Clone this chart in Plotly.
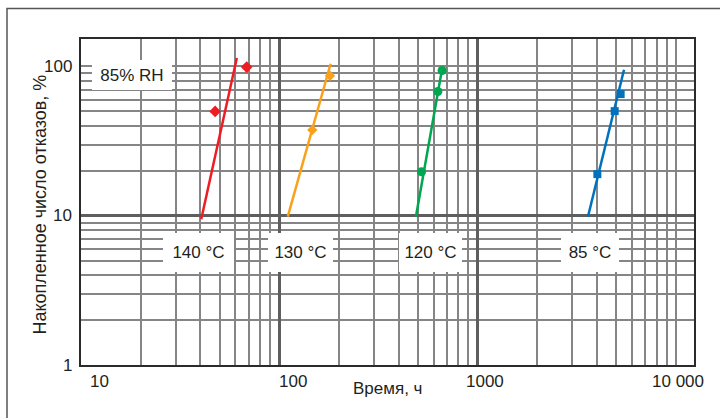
import numpy as np
import plotly.graph_objects as go

# ---------------- data ----------------
series_names = ["140 °C", "130 °C", "120 °C", "85 °C"]
series_colors = ["#ee1d23", "#f9a11b", "#00a650", "#0071bc"]
series_symbols = ["diamond", "diamond", "circle", "square"]
series_sizes = [9, 8, 9, 8]

# measured points (time, h ; cumulative failures, %)
pts140_x = [47.5, 68.5]
pts140_y = [50.0, 99.0]
pts130_x = [146.8, 180.3]
pts130_y = [37.6, 86.6]
pts120_x = [522, 631, 663]
pts120_y = [19.7, 68.0, 94.0]
pts85_x = [4023, 4920, 5272]
pts85_y = [19.0, 50.2, 65.3]

# fitted lines (end points)
fit140_x = [40.4, 61.1]
fit140_y = [9.46, 113.8]
fit130_x = [110.4, 181.6]
fit130_y = [9.85, 104.3]
fit120_x = [489, 666]
fit120_y = [9.85, 100.0]
fit85_x = [3606, 5483]
fit85_y = [9.85, 95.0]

# label positions (data units)
label_x = [39.0, 128.0, 582.0, 3681.0]
label_y = [5.66, 5.66, 5.66, 5.66]
label_w = [71, 65, 63, 58]
rh_text = "85% RH"
rh_x = 18.1
rh_y = 88.0

# axes
x_tickvals = [10, 100, 1000, 10000]
x_ticktext = ["10", "100", "1000", "10 000"]
x_label_shift = [18, 14, 7.5, 2.5]
y_tickvals = [1, 10, 100]
y_ticktext = ["1", "10", "100"]
x_major_grid = [100, 1000]
y_major_grid = [10]
x_minor_grid = [m * d for d in (10, 100, 1000) for m in range(2, 10)] + [10000]
y_minor_grid = [m * d for d in (1, 10) for m in range(2, 10)] + [100]

x_title = "Время, ч"
y_title = "Накопленное число отказов, %"

pts_x = [pts140_x, pts130_x, pts120_x, pts85_x]
pts_y = [pts140_y, pts130_y, pts120_y, pts85_y]
fit_x = [fit140_x, fit130_x, fit120_x, fit85_x]
fit_y = [fit140_y, fit130_y, fit120_y, fit85_y]

FONT = "Liberation Sans, Arial, Helvetica, sans-serif"
TXT = "#231f20"

fig = go.Figure()
for i in range(4):
    fig.add_trace(go.Scatter(x=fit_x[i], y=fit_y[i], mode="lines",
                             line=dict(color=series_colors[i], width=2.5),
                             showlegend=False, hoverinfo="skip"))
    fig.add_trace(go.Scatter(x=pts_x[i], y=pts_y[i], mode="markers",
                             marker=dict(color=series_colors[i], symbol=series_symbols[i],
                                         size=series_sizes[i], line=dict(width=0)),
                             name=series_names[i], showlegend=False))

xr = [1.0, 4.092]
yr = [0.0, 2.184]

fig.update_layout(
    width=720, height=418,
    margin=dict(l=81, r=26, t=39, b=53, autoexpand=False),
    paper_bgcolor="white", plot_bgcolor="white",
    font=dict(family=FONT, size=17, color=TXT),
    showlegend=False,
    xaxis=dict(type="log", range=xr, tickmode="array", tickvals=x_major_grid,
               showticklabels=False, ticks="",
               showgrid=True, gridcolor="#5e5e5e", gridwidth=2.6, zeroline=False,
               showline=True, mirror=True, linecolor="#2b2b2b", linewidth=2,
               minor=dict(tickmode="array", tickvals=x_minor_grid, showgrid=True,
                          gridcolor="#858585", gridwidth=1.7, ticks="")),
    yaxis=dict(type="log", range=yr, tickmode="array", tickvals=y_major_grid,
               showticklabels=False, ticks="",
               showgrid=True, gridcolor="#5e5e5e", gridwidth=2.6, zeroline=False,
               showline=True, mirror=True, linecolor="#2b2b2b", linewidth=2,
               minor=dict(tickmode="array", tickvals=y_minor_grid, showgrid=True,
                          gridcolor="#858585", gridwidth=1.7, ticks="")),
)

annotations = []
# x tick labels
for v, t, s in zip(x_tickvals, x_ticktext, x_label_shift):
    annotations.append(dict(x=np.log10(v), y=0, xref="x", yref="paper", text=t,
                            showarrow=False, xanchor="center", yanchor="middle",
                            xshift=s, yshift=-16, font=dict(size=17, color=TXT)))
# y tick labels
for v, t in zip(y_tickvals, y_ticktext):
    annotations.append(dict(x=0, y=np.log10(v), xref="paper", yref="y", text=t,
                            showarrow=False, xanchor="right", yanchor="middle",
                            xshift=-7, font=dict(size=17, color=TXT)))
# axis titles
annotations.append(dict(x=0.5, y=0, xref="paper", yref="paper", text=x_title,
                        showarrow=False, xanchor="center", yanchor="middle",
                        yshift=-23, font=dict(size=17, color=TXT)))
annotations.append(dict(x=0, y=0.492, xref="paper", yref="paper", text=y_title,
                        showarrow=False, xanchor="center", yanchor="middle",
                        textangle=-90, xshift=-41, font=dict(size=18, color=TXT)))
# series labels in white boxes
for name, lx, ly, w in zip(series_names, label_x, label_y, label_w):
    annotations.append(dict(x=np.log10(lx), y=np.log10(ly), xref="x", yref="y",
                            text=name, showarrow=False, bgcolor="white",
                            width=w, height=39, borderpad=0, borderwidth=0,
                            font=dict(size=17, color=TXT)))
annotations.append(dict(x=np.log10(rh_x), y=np.log10(rh_y), xref="x", yref="y",
                        text=rh_text, showarrow=False, bgcolor="white",
                        width=80, height=30, borderpad=0, borderwidth=0,
                        font=dict(size=17, color=TXT)))
fig.update_layout(annotations=annotations)

# outer frame of the figure
pw, ph = 720 - 81 - 26, 418 - 39 - 53
fig.add_shape(type="rect", xref="paper", yref="paper",
              x0=(7 - 81) / pw, x1=(730 - 81) / pw,
              y0=(418 - 53 - 430) / ph, y1=(418 - 53 - 8.5) / ph,
              line=dict(color="#555555", width=1.5), fillcolor="rgba(0,0,0,0)",
              layer="below")

fig.write_html("out.html", config=dict(displayModeBar=False))
